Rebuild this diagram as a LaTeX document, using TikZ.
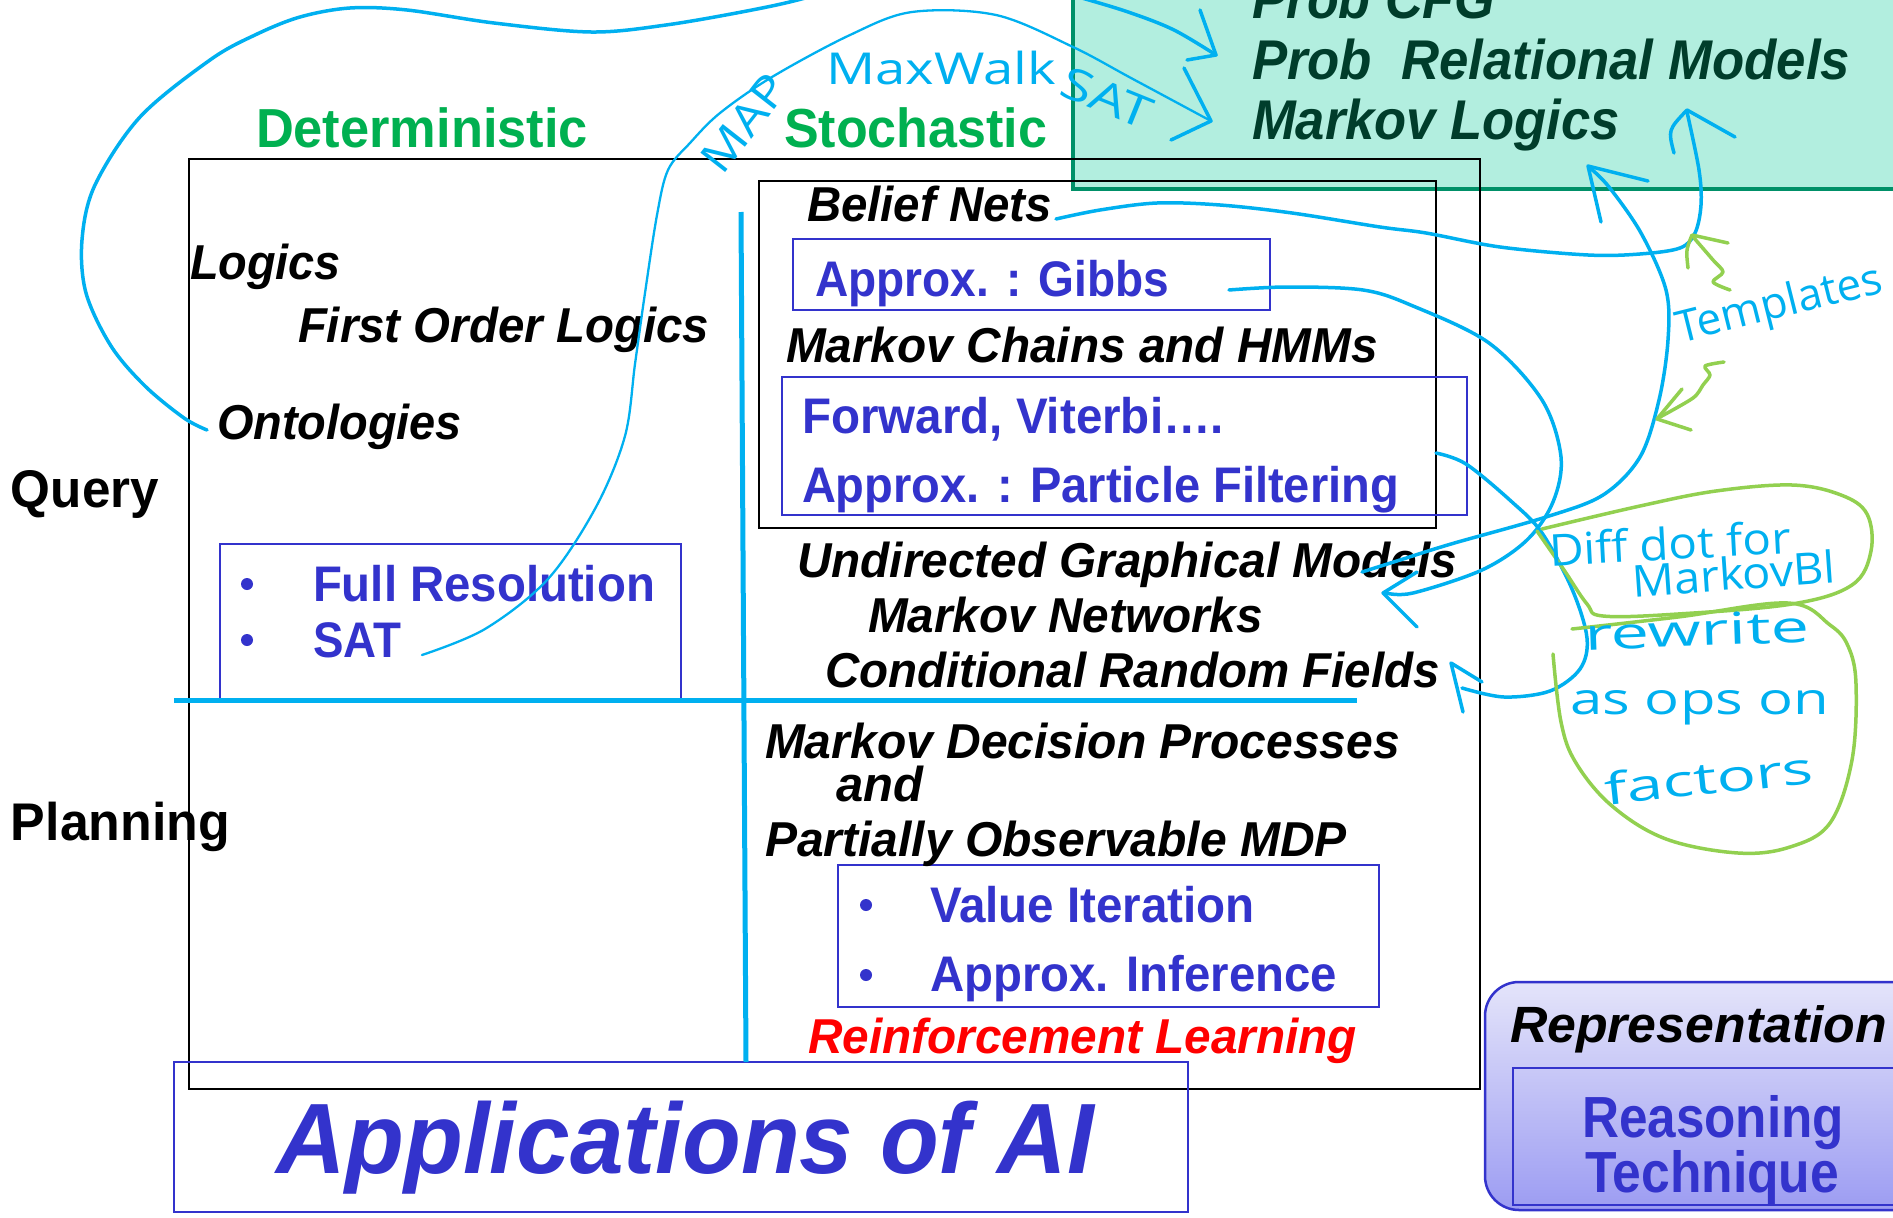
\documentclass[tikz,border=0pt]{standalone}
\usepackage{fontspec}
\usepackage{graphicx}
\setmainfont{Liberation Sans}
\newfontfamily\handfont{Open Sans}

\definecolor{cyanink}{HTML}{00B0F0}
\definecolor{limeink}{HTML}{92D050}
\definecolor{labgreen}{HTML}{00B050}
\definecolor{navy}{HTML}{3333CC}
\definecolor{mint}{HTML}{B2EEDF}
\definecolor{mintedge}{HTML}{009068}
\definecolor{minttext}{HTML}{003D2B}
\definecolor{lavtop}{HTML}{E4E4FA}
\definecolor{lavbot}{HTML}{9C9CF2}

% set a text at a given font size and squeeze/stretch it to a given width
\newlength\fitlen
\newcommand\fitto[2]{\settowidth\fitlen{#2}\pgfmathsetmacro\fitratio{#1/\fitlen}\scalebox{\fitratio}[1]{#2}}
\newcommand\fsz[1]{\fontsize{#1}{#1}\selectfont}

\begin{document}
\begin{tikzpicture}[x=1pt,y=-1pt,
  every node/.style={inner sep=0pt,outer sep=0pt},
  lbl/.style={font=\fsz{53}\bfseries,anchor=base west},
  hdr/.style={font=\fsz{55}\bfseries,text=labgreen,anchor=base west},
  itl/.style={font=\fsz{49}\bfseries\itshape,anchor=base west},
  blu/.style={font=\fsz{50}\bfseries,text=navy,anchor=base west},
  minttxt/.style={font=\fsz{56}\bfseries\itshape,text=minttext,anchor=base west},
  handtxt/.style={font=\handfont\fsz{44},text=cyanink},
  outerframe/.style={draw=black,line width=2pt,anchor=north west},
  thinframe/.style={draw=black,line width=1.1pt,anchor=north west},
  bluebox/.style={draw=navy,line width=2pt,anchor=north west},
  axisline/.style={draw=cyanink,line width=5pt},
  ink/.style={draw=cyanink,line width=3.5pt,line cap=round,line join=round},
  thinink/.style={ink,line width=2.3pt},
  lime/.style={draw=limeink,line width=3.5pt,line cap=round,line join=round},
  bul/.style={circle,fill=navy,minimum size=12pt}]

\useasboundingbox (0,0) rectangle (1893,1218);
\fill[white] (0,0) rectangle (1893,1218);
\clip (0,0) rectangle (1893,1218);

% ---- probabilistic first-order models (top right)
\node[fill=mint,draw=mintedge,line width=4pt,anchor=north west,
      minimum width=860pt,minimum height=210pt] (mintbox) at (1073,-21) {};
\node[minttxt] (pcfg) at (1252,18) {\fitto{243}{Prob CFG}};
\node[minttxt] (prm) at (1252,79) {\fitto{598}{Prob\ \ Relational Models}};
\node[minttxt] (ml) at (1252,139) {\fitto{368}{Markov Logics}};

% ---- legend (bottom right)
\node[draw=navy,line width=2.5pt,rounded corners=34pt,top color=lavtop,bottom color=lavbot,
      anchor=north west,minimum width=480pt,minimum height=228pt] (repbox) at (1485,982) {};
\node[draw=navy,line width=2pt,anchor=north west,minimum width=440pt,minimum height=137pt] (reasbox) at (1513,1068) {};
\node[itl,font=\fsz{51}\bfseries\itshape] (rep) at (1510,1042) {\fitto{377}{Representation}};
\node[blu,font=\fsz{58}\bfseries] (reas) at (1582,1137) {\fitto{262}{Reasoning}};
\node[blu,font=\fsz{58}\bfseries] (tech) at (1585,1192) {\fitto{254}{Technique}};

% ---- frames and boxes
\node[outerframe,minimum width=1291pt,minimum height=930pt] (frame) at (189,159) {};
\node[thinframe,minimum width=677pt,minimum height=347pt] (bnbox) at (759,181) {};
\node[bluebox,minimum width=461pt,minimum height=156pt] (frbox) at (220,544) {};
\node[bluebox,minimum width=477pt,minimum height=71pt] (gibbsbox) at (793,239) {};
\node[bluebox,minimum width=685pt,minimum height=138pt] (fwdbox) at (782,377) {};
\node[bluebox,minimum width=541pt,minimum height=142pt] (vibox) at (838,865) {};
\node[bluebox,minimum width=1014pt,minimum height=150pt] (appbox) at (174,1062) {};

% ---- headings
\node[hdr] (det) at (256,147) {\fitto{332}{Deterministic}};
\node[hdr] (sto) at (784,147) {\fitto{263}{Stochastic}};
\node[lbl] (query) at (11,507) {\fitto{148}{Query}};
\node[lbl] (plan) at (11,840) {\fitto{219}{Planning}};

% ---- deterministic column
\node[itl] (logics) at (190,279) {\fitto{151}{Logics}};
\node[itl] (fol) at (298,342) {\fitto{411}{First Order Logics}};
\node[itl] (onto) at (217,439) {\fitto{245}{Ontologies}};
\node[bul] (b1) at (247,584) {};
\node[blu] (fullres) at (313,601) {\fitto{342}{Full Resolution}};
\node[bul] (b2) at (247,640) {};
\node[blu] (sat) at (313,657) {\fitto{88}{SAT}};

% ---- stochastic column
\node[itl] (belief) at (807,221) {\fitto{245}{Belief Nets}};
\node[blu] (gibbs) at (815,296) {\fitto{354}{Approx. : Gibbs}};
\node[itl] (mchmm) at (786,362) {\fitto{592}{Markov Chains and HMMs}};
\node[blu] (fwd) at (802,433) {\fitto{422}{Forward, Viterbi….}};
\node[blu] (pf) at (802,502) {\fitto{597}{Approx. : Particle Filtering}};
\node[itl] (ugm) at (797,577) {\fitto{660}{Undirected Graphical Models}};
\node[itl] (mn) at (868,632) {\fitto{395}{Markov Networks}};
\node[itl] (crf) at (825,687) {\fitto{615}{Conditional Random Fields}};
\node[itl] (mdp) at (765,758) {\fitto{635}{Markov Decision Processes}};
\node[itl] (and) at (836,801) {\fitto{87}{and}};
\node[itl] (pomdp) at (765,856) {\fitto{582}{Partially Observable MDP}};
\node[bul] (b3) at (866,905) {};
\node[blu] (vi) at (930,922) {\fitto{325}{Value Iteration}};
\node[bul] (b4) at (866,975) {};
\node[blu] (ainf) at (930,991) {\fitto{407}{Approx. Inference}};
\node[itl,text=red] (rl) at (808,1053) {\fitto{549}{Reinforcement Learning}};

% ---- title
\node[font=\fsz{100}\bfseries\itshape,text=navy,anchor=base west] (app) at (276,1173) {\fitto{818}{Applications of AI}};

% ---- quadrant axes
\coordinate (hl) at (174,700);  \coordinate (hr) at (1357,700);
\coordinate (vt) at (741,212);  \coordinate (vb) at (746,1062);
\draw[axisline] (hl) -- (hr);
\draw[axisline] (vt) -- (vb);

% ---- pen annotations
% Ontologies -> Prob CFG
\draw[ink] plot[smooth,tension=0.55] coordinates {(207,430) (184,418) (145,386) (111,346) (86,293) (82,240) (95,185) (140,117) (210,60) (255,35) (300,17) (350,8) (407,10) (494,23) (591,32) (666,25) (752,10) (809,-3) (900,-30) (1000,-25) (1082,-2) (1131,13) (1174,30) (1216,55)};
\draw[ink] (1200,10) -- (1216,55) -- (1187,60);
% SAT -> Markov Logics (MAP / MaxWalkSAT)
\draw[thinink] plot[smooth,tension=0.55] coordinates {(422,655) (485,629) (548,579) (596,507) (625,436) (635,364) (645,293) (657,215) (668,170) (690,143) (720,113) (772,77) (850,35) (912,12) (996,15) (1073,47) (1131,78) (1211,121)};
\draw[ink] (1184,68) -- (1211,121) -- (1171,140);
\node[handtxt,rotate=52] (maplbl) at (744,123) {\fitto{110}{MAP}};
\node[handtxt,anchor=base west] (mwlbl) at (826,84) {\fitto{230}{MaxWalk}};
\node[handtxt,rotate=-22] (satlbl) at (1107,98) {\fitto{95}{SAT}};
% Belief Nets -> Markov Logics
\draw[ink] plot[smooth,tension=0.55] coordinates {(1056,219) (1100,210) (1157,203) (1220,205) (1292,213) (1380,227) (1426,233) (1500,247) (1588,255) (1640,254) (1680,248) (1695,233) (1701,205) (1699,170) (1687,112)};
\draw[ink] (1674,153) .. controls (1668,130) .. (1687,110) -- (1735,137);
% Gibbs -> Undirected Graphical Models
\draw[ink] plot[smooth,tension=0.55] coordinates {(1229,290) (1287,287) (1363,290) (1413,306) (1489,343) (1542,400) (1561,457) (1553,502) (1527,540) (1482,570) (1413,593) (1386,593)};
\draw[ink] (1417,572) -- (1383,593) -- (1417,627);
% Particle Filtering -> Conditional Random Fields
\draw[ink] plot[smooth,tension=0.55] coordinates {(1436,453) (1466,464) (1512,502) (1542,533) (1572,589) (1587,638) (1580,669) (1550,691) (1504,697) (1462,688)};
\draw[ink] (1463,712) -- (1451,663) -- (1482,682);
% Undirected Graphical Models -> Prob Relational Models
\draw[ink] plot[smooth,tension=0.55] coordinates {(1362,572) (1400,560) (1451,544) (1546,517) (1603,495) (1640,457) (1659,400) (1668,340) (1666,290) (1641,233) (1609,187) (1590,168)};
\draw[ink] (1601,222) -- (1588,166) -- (1648,181);
% templates
\node[handtxt,anchor=base west,rotate=14] (templ) at (1680,343) {Templates};
\draw[lime] (1728,243) -- (1692,235) .. controls (1686,250) .. (1688,268);
\draw[lime] plot[smooth,tension=0.5] coordinates {(1694,238) (1713,260) (1723,272) (1713,282) (1730,290)};
\draw[lime] (1682,389) -- (1657,419) -- (1691,430);
\draw[lime] plot[smooth,tension=0.5] coordinates {(1660,417) (1693,398) (1703,385) (1710,375) (1705,366) (1724,362)};
% notes
\draw[lime] plot[smooth,tension=0.6] coordinates {(1537,531) (1564,570) (1587,604) (1603,616) (1678,614) (1792,604) (1852,585) (1871,551) (1867,514) (1841,495) (1792,485) (1716,491) (1640,506) (1542,529)};
\draw[lime] plot[smooth,tension=0.6] coordinates {(1572,629) (1678,617) (1788,603) (1830,625) (1848,646) (1856,684) (1852,760) (1830,823) (1790,847) (1738,853) (1666,839) (1612,806) (1576,763) (1561,722) (1553,654)};
\node[handtxt,anchor=base west,rotate=3] (n1) at (1550,566) {\fitto{242}{Diff dot for}};
\node[handtxt,anchor=base west,rotate=4] (n2) at (1633,597) {\fitto{204}{MarkovBl}};
\node[handtxt,anchor=base west,rotate=2] (n3) at (1585,650) {\fitto{225}{rewrite}};
\node[handtxt,anchor=base west] (n4) at (1570,714) {\fitto{259}{as ops on}};
\node[handtxt,anchor=base west,rotate=6] (n5) at (1606,805) {\fitto{210}{factors}};
\end{tikzpicture}
\end{document}
